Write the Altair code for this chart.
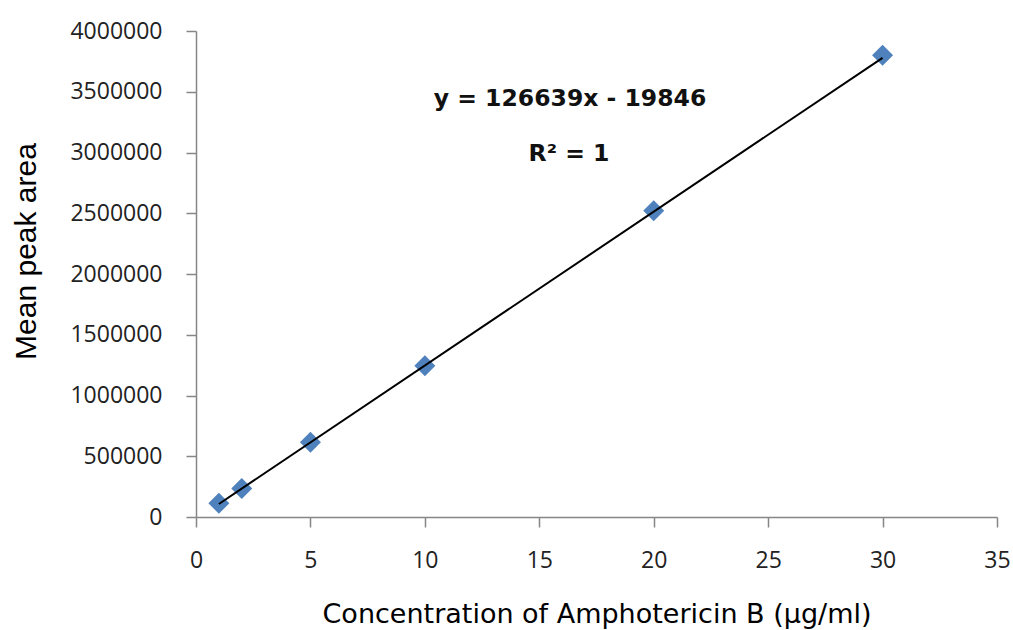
import altair as alt
import pandas as pd

# Calibration standards: concentration (µg/ml) vs mean peak area
concentration = [1, 2, 5, 10, 20, 30]
peak_area = [113000, 235000, 615000, 1245000, 2520000, 3800000]

# Linear fit reported on the chart
slope = 126639
intercept = -19846
equation_label = "y = 126639x - 19846"
r2_label = "R² = 1"

df = pd.DataFrame({"conc": concentration, "area": peak_area})
fit = pd.DataFrame({"conc": [min(concentration), max(concentration)]})
fit["area"] = slope * fit["conc"] + intercept

FONT = "DejaVu Sans"
LABEL_FONT = "Open Sans"
AXIS_GREY = "#868686"

x_scale = alt.Scale(domain=[0, 35], nice=False, zero=True)
y_scale = alt.Scale(domain=[0, 4000000], nice=False)

x_axis = alt.Axis(
    title="Concentration of Amphotericin B (µg/ml)",
    values=list(range(0, 36, 5)),
    grid=False, labelFlush=False,
    domainColor=AXIS_GREY, domainWidth=1.5,
    tickColor=AXIS_GREY, tickWidth=1.5, tickSize=10,
    labelFont=LABEL_FONT, labelFontSize=23, labelColor="#222222", labelPadding=22,
    titleFont=FONT, titleFontSize=27, titleFontWeight="normal", titleColor="#000000",
    titleBaseline="alphabetic", titleY=105,
)
y_axis = alt.Axis(
    title="Mean peak area",
    values=list(range(0, 4000001, 500000)),
    format="d",
    grid=False, labelFlush=False,
    domainColor=AXIS_GREY, domainWidth=1.5,
    tickColor=AXIS_GREY, tickWidth=1.5, tickSize=10,
    labelFont=LABEL_FONT, labelFontSize=23, labelColor="#222222", labelPadding=24,
    titleFont="Liberation Sans", titleFontSize=30, titleFontWeight=500,
    titleColor="#000000", titleBaseline="alphabetic", titleX=-161, titleY=220,
)

points = alt.Chart(df).mark_point(
    shape="diamond", filled=True, size=440, color="#4F81BD", opacity=1
).encode(
    x=alt.X("conc:Q", scale=x_scale, axis=x_axis),
    y=alt.Y("area:Q", scale=y_scale, axis=y_axis),
)

trend = alt.Chart(fit).mark_line(color="black", strokeWidth=2).encode(
    x=alt.X("conc:Q", scale=x_scale),
    y=alt.Y("area:Q", scale=y_scale),
)

text_style = dict(font=FONT, fontSize=23.5, fontWeight="bold", color="#111111",
                  align="center", baseline="alphabetic")

eq_text = alt.Chart(pd.DataFrame({"label": [equation_label]})).mark_text(**text_style).encode(
    text="label:N", x=alt.value(374), y=alt.value(75)
)
r2_text = alt.Chart(pd.DataFrame({"label": [r2_label]})).mark_text(**text_style).encode(
    text="label:N", x=alt.value(373), y=alt.value(130)
)

chart = alt.layer(points, trend, eq_text, r2_text).properties(
    width=801,
    height=486,
    autosize=alt.AutoSizeParams(type="none"),
    padding={"left": 196, "top": 31, "right": 16, "bottom": 113},
    background="white",
).configure_view(stroke=None)

chart.save("out.html", embed_options={"renderer": "svg", "actions": False})
